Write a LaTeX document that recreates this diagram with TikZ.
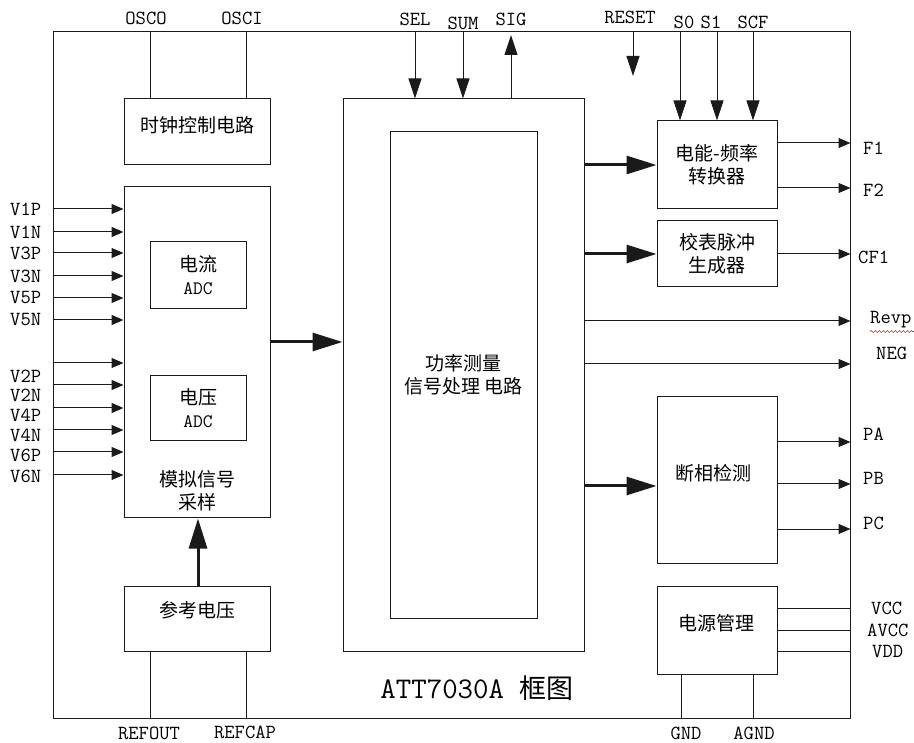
\documentclass[tikz,border=0pt]{standalone}
\usepackage{fontspec}
\newfontfamily\cjkfont{Noto Sans CJK SC}
\usetikzlibrary{arrows.meta,decorations.pathmorphing}
\definecolor{BDLine}{HTML}{1A1A1A}
\definecolor{BDSpell}{HTML}{E02020}
\tikzset{
  blk/.style={draw=BDLine,line width=1pt,inner sep=0pt},
  wire/.style={draw=BDLine,line width=1pt},
  pin/.style={wire,-{Triangle[length=12pt,width=10pt]}},
  pintop/.style={wire,-{Triangle[length=20pt,width=13pt]}},
  bus/.style={draw=BDLine,line width=3pt,-{Triangle[length=30pt,width=18pt]}},
  pinlbl/.style={font=\fontsize{20}{22}\selectfont\ttfamily,inner sep=0pt},
  cjklbl/.style={font=\fontsize{19}{23}\selectfont\cjkfont,align=center,inner sep=0pt},
  adclbl/.style={blk,font=\fontsize{19}{23}\selectfont\ttfamily,align=center},
}
\begin{document}
\begin{tikzpicture}[x=1pt,y=-1pt]
    \useasboundingbox (0,0) rectangle (914,743);
    % chip outline and blocks
    \node[blk,minimum width=797pt,minimum height=686pt] (chip) at (451.5,375) {};
    \node[blk,minimum width=146pt,minimum height=66pt] (clock) at (197,132) {};
    \node[cjklbl] (clocktxt) at (197,125) {时钟控制电路};
    \node[blk,minimum width=146pt,minimum height=331pt] (analog) at (197,352.5) {};
    \node[cjklbl] (analogtxt) at (197,491) {模拟信号\\采样};
    \node[adclbl,minimum width=96pt,minimum height=67pt] (curadc) at (198,275.5)
      {{\cjkfont 电流}\\ADC};
    \node[adclbl,minimum width=96pt,minimum height=65pt] (voladc) at (198,408.5)
      {{\cjkfont 电压}\\ADC};
    \node[blk,minimum width=146pt,minimum height=65pt] (vref) at (197,618.5) {};
    \node[cjklbl] (vreftxt) at (197,610) {参考电压};
    \node[blk,minimum width=241pt,minimum height=552pt] (dsp) at (463.5,375) {};
    \node[blk,cjklbl,minimum width=147pt,minimum height=486pt] (dspcore) at (463.5,375)
      {功率测量\\信号处理\,电路};
    \node[blk,cjklbl,minimum width=120pt,minimum height=88pt] (efconv) at (717,165)
      {电能-频率\\转换器};
    \node[blk,cjklbl,minimum width=120pt,minimum height=66pt] (cfgen) at (717,254)
      {校表脉冲\\生成器};
    \node[blk,minimum width=120pt,minimum height=166pt] (phase) at (717,480) {};
    \node[cjklbl] (phasetxt) at (713,473) {断相检测};
    \node[blk,minimum width=120pt,minimum height=88pt] (power) at (717,630) {};
    \node[cjklbl] (powertxt) at (716,623) {电源管理};
    \node[font=\fontsize{30}{34}\selectfont\ttfamily] (title) at (477,688)
      {ATT7030A {\cjkfont\fontsize{27}{30}\selectfont 框图}};

    % clock and reference pins
    \foreach \x/\name/\ly in {150/OSCO/18,246/OSCI/18}{
      \draw[wire] (\x,32) -- (\x,99);
      \node[pinlbl] at (\x-4,\ly) {\name};
    }
    \foreach \x/\name/\ly in {150/REFOUT/733,246/REFCAP/732}{
      \draw[wire] (vref.south -| \x,0) -- (chip.south -| \x,0);
      \node[pinlbl] at (\x-1,\ly) {\name};
    }

    % analog inputs
    \foreach \y in {209,232,253,276,298,320,363,385,408,430,452,475}{
      \draw[pin] (chip.west |- 0,\y) -- (analog.west |- 0,\y);
    }
    \foreach \name/\y in {V1P/209,V1N/232,V3P/253,V3N/276,V5P/298,V5N/320,
                          V2P/376,V2N/395,V4P/415,V4N/435,V6P/455,V6N/476}{
      \node[pinlbl,anchor=west] at (10,\y) {\name};
    }

    % internal buses
    \draw[bus] (analog.east |- 0,342) -- (dsp.west |- 0,342);
    \draw[bus] (vref.north -| 198,0) -- (analog.south -| 198,0);
    \draw[bus] (dsp.east |- efconv.west) -- (efconv.west);
    \draw[bus] (dsp.east |- cfgen.west) -- (cfgen.west);
    \draw[bus] (dsp.east |- 0,486) -- (phase.west |- 0,486);

    % top control pins
    \foreach \x/\name/\ly in {415/SEL/19,463/SUM/23}{
      \draw[pintop] (chip.north -| \x,0) -- (dsp.north -| \x,0);
      \node[pinlbl] at (\x,\ly) {\name};
    }
    \coordinate (sigend) at (511,35);
    \draw[pintop] (dsp.north -| sigend) -- (sigend);
    \node[pinlbl] at (511,19) {SIG};
    \coordinate (rstend) at (633,76);
    \draw[pintop] (chip.north -| rstend) -- (rstend);
    \node[pinlbl] at (630,17) {RESET};
    \foreach \x/\name/\lx in {680/S0/684,717/S1/711,753/SCF/753}{
      \draw[pintop] (chip.north -| \x,0) -- (efconv.north -| \x,0);
      \node[pinlbl] at (\lx,22) {\name};
    }

    % outputs on the right
    \foreach \y/\name/\ly in {143/F1/148,188/F2/190}{
      \draw[pin] (efconv.east |- 0,\y) -- (chip.east |- 0,\y);
      \node[pinlbl,anchor=west] at (863,\ly) {\name};
    }
    \draw[pin] (cfgen.east) -- (chip.east |- cfgen.east);
    \node[pinlbl,anchor=west] (cf1) at (858,257) {CF1};
    \draw[pin] (dsp.east |- 0,321) -- (chip.east |- 0,321);
    \node[pinlbl,anchor=west] (revp) at (870,320) {Revp};
    \draw[BDSpell,line width=.6pt,decorate,decoration={snake,amplitude=1pt,segment length=4pt}]
      (revp.south west) ++(0,3) -- ++(44,0);
    \draw[pin] (dsp.east |- 0,364) -- (chip.east |- 0,364);
    \node[pinlbl,anchor=west] at (876,353) {NEG};
    \foreach \y/\name/\ly in {442/PA/434,484/PB/478,529/PC/523}{
      \draw[pin] (phase.east |- 0,\y) -- (chip.east |- 0,\y);
      \node[pinlbl,anchor=west] at (863,\ly) {\name};
    }

    % power pins
    \foreach \y/\name/\lx in {608/VCC/871,630/AVCC/867,651/VDD/872}{
      \draw[wire] (power.east |- 0,\y) -- (chip.east |- 0,\y);
      \node[pinlbl,anchor=west] at (\lx,\y) {\name};
    }
    \foreach \x/\name/\lx in {681/GND/686,753/AGND/754}{
      \draw[wire] (power.south -| \x,0) -- (chip.south -| \x,0);
      \node[pinlbl] at (\lx,733) {\name};
    }
  \end{tikzpicture}
\end{document}
